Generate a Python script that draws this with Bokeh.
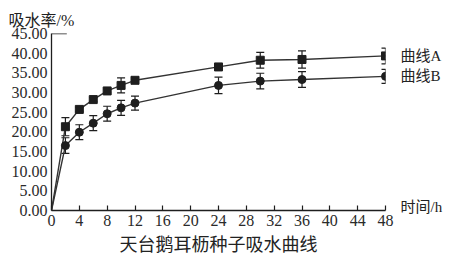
from bokeh.plotting import figure
from bokeh.models import Range1d, Whisker, TeeHead, ColumnDataSource, FixedTicker, LinearAxis
from bokeh.embed import file_html
from bokeh.resources import INLINE

# ---- data ----
times = [2, 4, 6, 8, 10, 12, 24, 30, 36, 48]
curve_a = [21.3, 25.7, 28.2, 30.4, 31.8, 33.1, 36.5, 38.2, 38.4, 39.3]
err_a = [2.3, 0.5, 0.5, 0.5, 1.9, 0.5, 0.5, 2.0, 2.2, 2.0]
curve_b = [16.5, 19.9, 22.2, 24.6, 26.1, 27.3, 31.8, 32.9, 33.3, 34.1]
err_b = [2.0, 1.9, 1.9, 1.9, 1.9, 1.8, 2.1, 2.0, 2.0, 1.8]
x_ticks = [0, 4, 8, 12, 16, 20, 24, 28, 32, 36, 40, 44, 48]
y_ticks = [0, 5, 10, 15, 20, 25, 30, 35, 40, 45]
y_tick_labels = {t: f"{t:.2f}" for t in y_ticks}
name_a = "曲线A"
name_b = "曲线B"
y_title = "吸水率/%"
x_title = "时间/h"
caption = "天台鹅耳枥种子吸水曲线"

LATIN = "Liberation Serif, Noto Sans CJK SC"
INK = "#1e1e1e"

p = figure(width=454, height=260, output_backend="svg", toolbar_location=None,
           x_range=Range1d(0, 48), y_range=Range1d(0, 45),
           min_border_left=51, min_border_right=69, min_border_top=33, min_border_bottom=50)
p.outline_line_color = None
p.xgrid.visible = False
p.ygrid.visible = False
p.background_fill_color = "white"

# title (y quantity)
p.title.text = y_title
p.title.align = "left"
p.title.offset = -43
p.title.text_font = LATIN
p.title.text_font_size = "16px"
p.title.text_font_style = "normal"
p.title.text_color = "#222222"

# axes
for ax in (p.xaxis[0], p.yaxis[0]):
    ax.axis_line_color = INK
    ax.axis_line_width = 1.3
    ax.major_label_text_font = LATIN
    ax.major_label_text_font_size = "16px"
    ax.major_label_text_color = "#2a2a2a"
    ax.minor_tick_line_color = None
    ax.major_tick_line_color = INK
    ax.major_tick_line_width = 1.2
p.xaxis.ticker = FixedTicker(ticks=x_ticks)
p.xaxis.major_tick_in = 5
p.xaxis.major_tick_out = 0
p.xaxis.major_label_standoff = 4
p.xaxis.axis_label = caption
p.xaxis.axis_label_text_font = LATIN
p.xaxis.axis_label_text_font_size = "18px"
p.xaxis.axis_label_text_font_style = "normal"
p.xaxis.axis_label_text_color = "#222222"
p.xaxis.axis_label_standoff = 6
p.yaxis.ticker = FixedTicker(ticks=y_ticks)
p.yaxis.major_label_overrides = y_tick_labels
p.yaxis.major_tick_in = 0
p.yaxis.major_tick_out = 0
p.yaxis.major_label_standoff = 4

# right-hand labels (curve names and time unit) as a bare axis
label_pos = {curve_a[-1]: name_a, curve_b[-1]: name_b, 1.0: x_title}
rax = LinearAxis(ticker=FixedTicker(ticks=list(label_pos.keys())),
                 major_label_overrides=label_pos,
                 axis_line_color=None, major_tick_line_color=None, minor_tick_line_color=None,
                 major_label_standoff=9, major_label_text_font=LATIN,
                 major_label_text_font_size="15px", major_label_text_color="#222222")
p.add_layout(rax, "right")

# top cap of the y axis
p.segment(x0=[0], y0=[45], x1=[2.2], y1=[45], line_color=INK, line_width=1.3)

# curves from the origin
p.line([0] + times, [0] + curve_a, line_color="#333333", line_width=1.4)
p.line([0] + times, [0] + curve_b, line_color="#333333", line_width=1.4)

src_a = ColumnDataSource(dict(x=times, y=curve_a,
                              lo=[v - e for v, e in zip(curve_a, err_a)],
                              hi=[v + e for v, e in zip(curve_a, err_a)]))
src_b = ColumnDataSource(dict(x=times, y=curve_b,
                              lo=[v - e for v, e in zip(curve_b, err_b)],
                              hi=[v + e for v, e in zip(curve_b, err_b)]))
for src in (src_a, src_b):
    w = Whisker(source=src, base="x", upper="hi", lower="lo", dimension="height",
                line_color=INK, line_width=1.2,
                upper_head=TeeHead(size=8, line_color=INK, line_width=1.2),
                lower_head=TeeHead(size=8, line_color=INK, line_width=1.2))
    p.add_layout(w)

p.scatter("x", "y", source=src_a, marker="square", size=8, color=INK)
p.scatter("x", "y", source=src_b, marker="circle", size=8, color=INK)

open("out.html", "w").write(file_html(p, INLINE))
